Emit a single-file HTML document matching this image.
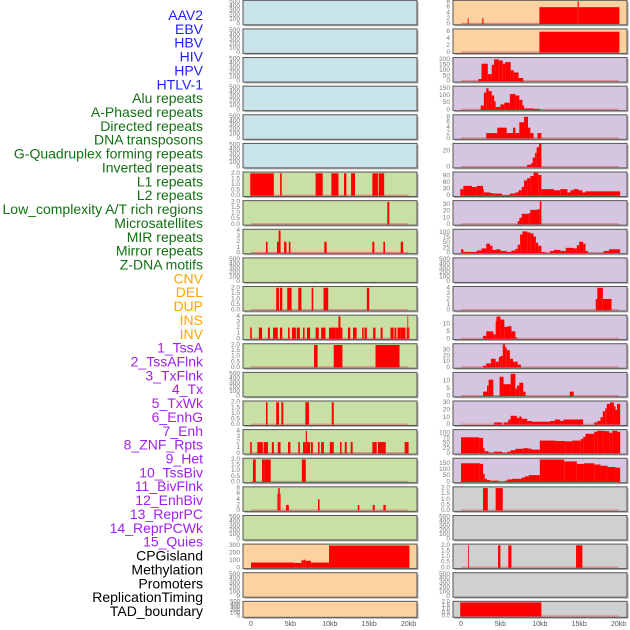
<!DOCTYPE html>
<html><head><meta charset="utf-8"><style>
html,body{margin:0;padding:0;background:#fff;width:630px;height:630px;overflow:hidden}
svg{display:block}
</style></head><body>
<svg id="chart" width="630" height="630" xmlns="http://www.w3.org/2000/svg"></svg>
<script>
// ---- labels ----
const labelNames = ["AAV2","EBV","HBV","HIV","HPV","HTLV-1","Alu repeats","A-Phased repeats","Directed repeats","DNA transposons","G-Quadruplex forming repeats","Inverted repeats","L1 repeats","L2 repeats","Low_complexity A/T rich regions","Microsatellites","MIR repeats","Mirror repeats","Z-DNA motifs","CNV","DEL","DUP","INS","INV","1_TssA","2_TssAFlnk","3_TxFlnk","4_Tx","5_TxWk","6_EnhG","7_Enh","8_ZNF_Rpts","9_Het","10_TssBiv","11_BivFlnk","12_EnhBiv","13_ReprPC","14_ReprPCWk","15_Quies","CPGisland","Methylation","Promoters","ReplicationTiming","TAD_boundary"];
const labelGroups = [6,13,5,15,5];
const groupColors = ["#1f1fff","#137013","#ffa500","#a020f0","#000000"];
// ---- x axis ----
const xTicks = [0,5,10,15,20];
const xTickLabels = ["0","5kb","10kb","15kb","20kb"];
// ---- left column data: [startKb, endKb, value] ----
const L7 = [[-0.1,2.9,2],[3.7,3.9,2],[8.2,9.1,2],[10.2,11.1,2],[11.8,12.1,2],[12.7,13.2,2],[15.4,16.1,2],[16.2,16.9,2]];
const L8 = [[17.3,17.55,2]];
const L9 = [[1.9,2.1,2],[3.3,3.5,2],[3.5,3.75,4],[4.2,4.5,2],[4.8,5.0,2],[9.3,9.6,2],[15.4,15.65,2],[16.8,17.0,2],[19.0,19.3,2]];
const L11 = [[3.2,3.55,2],[3.67,3.97,2],[4.6,5.15,2],[6.0,6.4,2],[7.7,7.9,2],[9.2,9.8,2],[14.7,15.0,2]];
const L12 = [[-0.1,0.1,2],[1,1.4,2],[2.15,2.4,2],[2.8,3.4,2],[3.67,3.97,2],[4.7,4.9,2],[5.2,5.7,2],[5.8,6.2,2],[6.6,6.8,2],[7.1,7.5,2],[8.2,8.6,2],[8.9,9.45,2],[9.9,10.7,2],[10.7,11.1,2],[11.1,11.35,4],[11.35,11.6,2],[12.3,12.6,2],[12.95,13.4,2],[14.1,14.3,2],[14.4,14.7,2],[15.5,15.8,2],[16.45,16.7,2],[17.7,18.1,2],[18.2,18.45,2],[18.6,19,2],[19,19.6,2],[19.75,19.85,2],[19.85,19.95,4],[19.95,20.1,2]];
const L13 = [[8,8.45,2],[10.5,11.6,2],[15.8,18.85,2]];
const L15 = [[1.9,2.1,2],[3.2,3.55,2],[3.85,4.1,2],[6.9,7.35,2],[10.25,10.5,2]];
const L16 = [[-0.1,0.1,2],[0.8,1.5,2],[1.6,2.15,2],[2.65,2.9,2],[3.4,3.75,2],[4.7,5.0,2],[6,6.2,2],[6.6,6.95,2],[6.95,7.1,4],[7.1,7.5,2],[7.6,7.85,2],[8.5,8.7,2],[8.9,9.25,2],[10,10.5,2],[11.3,11.5,2],[11.9,12.15,2],[12.65,12.9,2],[15.4,15.95,2],[16.1,16.7,2],[16.7,17.1,2],[19.5,20,2]];
const L17 = [[0.25,0.6,2],[1.4,1.7,2],[1.7,2.5,2],[6.45,6.95,2]];
const L18 = [[3.35,3.45,6],[3.45,3.65,8],[3.65,3.75,6],[4.45,4.8,2],[8.5,8.7,4],[13.55,13.75,2],[15.45,15.7,2],[16.8,17.1,2]];
const L20 = [[0,5.5,70],[5.5,6.4,65],[6.4,6.7,100],[6.7,6.9,110],[6.9,7.6,95],[7.6,9.9,70],[9.9,20.1,300]];
// ---- right column data ----
const R1 = [[0.85,0.97,2],[2.7,2.85,2],[9.95,14.8,6],[14.8,14.95,8],[14.95,20.1,6]];
const R2 = [[9.95,20.1,6]];
const R3 = [[2.2,2.6,20],[2.6,3.4,160],[3.4,3.9,65],[3.9,4.2,150],[4.2,4.8,200],[4.8,5.3,190],[5.3,5.6,160],[5.6,6.3,175],[6.3,6.7,100],[6.7,7.3,80],[7.3,7.9,30]];
const R4 = [[2.5,2.9,30],[2.9,3.2,120],[3.2,3.5,150],[3.5,3.9,130],[3.9,4.2,100],[4.2,4.4,60],[4.4,5,20],[5,5.5,38],[5.5,6.2,50],[6.2,6.9,110],[6.9,7.4,100],[7.4,7.8,70],[7.8,8,30],[8,9.2,10],[9.2,10,7]];
const R5 = [[3.2,4.6,2],[4.6,5.8,4],[5.8,6.6,2],[6.6,6.9,4],[6.9,7.4,2],[7.4,8,6],[8,8.5,8],[8.5,8.8,4],[8.8,9.2,2],[9.7,10.2,2]];
const R6 = [[8.4,8.9,3],[8.9,9.1,5],[9.1,9.4,12],[9.4,9.6,18],[9.6,9.9,25],[9.9,10.2,30]];
const R7 = [[-0.1,0.3,30],[0.3,1.4,45],[1.4,2,40],[2,2.8,45],[2.8,2.9,30],[2.9,3.7,15],[3.7,4.1,12],[4.1,5.2,10],[5.2,6.2,3],[6.2,6.9,10],[6.9,7.3,15],[7.3,7.7,25],[7.7,8,40],[8,8.4,70],[8.4,8.8,80],[8.8,9.2,90],[9.2,9.8,105],[9.8,10.2,95],[10.2,11.8,30],[11.8,12.6,25],[12.6,13.5,30],[13.5,13.9,15],[13.9,14.3,25],[14.3,14.9,30],[14.9,15.4,25],[15.4,15.8,15],[15.8,20.2,20]];
const R8 = [[7.2,7.4,5],[7.4,7.7,10],[7.7,8.6,16],[8.6,8.8,17],[8.8,9.7,22],[9.7,10,23],[10,10.2,35]];
const R9 = [[0,0.3,18],[0.3,2,5],[2,2.6,12],[2.6,3.2,22],[3.2,3.7,45],[3.7,4,35],[4,4.5,15],[4.5,5,18],[5,5.8,10],[5.8,6.4,5],[6.4,6.9,12],[6.9,7.2,20],[7.2,7.5,40],[7.5,7.8,90],[7.8,8.4,105],[8.4,8.8,100],[8.8,9.2,95],[9.2,9.5,80],[9.5,9.8,50],[9.8,10.2,35],[10.2,10.7,5],[11.3,11.8,10],[11.8,12.6,15],[12.6,13.3,10],[13.3,14.3,25],[14.3,14.7,22],[14.7,15,38],[15,15.5,55],[15.5,15.8,45],[15.8,16.1,10],[18.1,18.8,10],[18.8,20.2,18]];
const R11 = [[17.1,17.3,2],[17.3,18,4],[18,19.1,2]];
const R12 = [[2.8,3.2,2],[3.2,4.1,5],[4.1,4.4,3],[4.4,4.5,12],[4.5,5,15],[5,5.5,13],[5.5,5.9,8],[5.9,6.4,8.5],[6.4,6.9,5],[6.9,7.1,1]];
const R13 = [[2.8,3.2,3],[3.2,3.8,7],[3.8,4.4,15],[4.4,4.8,10],[4.8,5,18],[5,5.3,20],[5.3,5.6,40],[5.6,5.8,35],[5.8,6.2,30],[6.2,6.6,15],[6.6,7.2,10],[7.2,7.6,5]];
const R14 = [[2.8,3.3,3],[3.3,3.5,7],[3.5,4.1,11],[4.9,5.4,13],[5.4,6.3,8],[6.3,6.9,15],[6.9,7.1,5],[7.1,7.4,7],[7.4,7.9,9],[7.9,8.2,3],[13.8,14.3,3]];
const R15 = [[4.2,5.2,3],[5.4,6,3],[6,6.3,7],[6.3,7.1,12],[7.1,7.4,9],[7.4,7.7,11],[7.7,8.4,8],[8.4,9,5],[9,11.3,4],[11.3,11.9,5],[11.9,12.6,7],[12.6,13,5],[13,15.5,7],[16.9,17.3,3],[17.3,17.7,5],[17.7,18,10],[18,18.3,18],[18.3,18.5,22],[18.5,18.9,28],[18.9,19.4,30],[19.4,19.6,25],[19.6,19.8,20],[19.8,20.2,28]];
const R16 = [[0,2.3,78],[2.3,2.8,75],[2.8,3,25],[3,3.5,10],[3.5,4.2,3],[4.2,5.2,8],[5.2,5.9,3],[5.9,6.3,8],[6.3,6.9,15],[6.9,7.9,22],[7.9,8.6,25],[8.6,9,22],[9,10,18],[10,12,62],[12,13.3,60],[13.3,14.1,58],[14.1,15.2,62],[15.2,15.5,70],[15.5,15.8,80],[15.8,16.9,95],[16.9,17.3,105],[17.3,18.1,110],[18.1,18.8,108],[18.8,19.2,100],[19.2,19.8,110],[19.8,20.2,105]];
const R17 = [[0,2.4,150],[2.4,2.8,145],[2.8,3,65],[3,3.3,25],[3.3,3.7,15],[3.7,4.8,10],[4.8,5.6,3],[5.6,5.9,10],[5.9,6.5,20],[6.5,7.7,25],[7.7,8.1,35],[8.1,8.6,45],[8.6,10,55],[10,13.1,180],[13.1,14.7,165],[14.7,15.6,145],[15.6,16.9,150],[16.9,17.7,140],[17.7,18.6,130],[18.6,19.6,120],[19.6,20.2,115]];
const R18 = [[2.8,3.4,2],[4.4,5.3,2]];
const R20 = [[0.9,1.0,2],[4.7,5.0,2],[6.0,6.4,2],[14.6,15.4,2]];
const R22 = [[-0.1,10.2,2]];
// ---- y scales per panel: [max, ticks] ----
const T500=[520,[0,100,200,300,400,500]], T2=[2.05,[0,0.5,1,1.5,2]], T4=[4.1,[0,1,2,3,4]], T8=[8.2,[0,2,4,6,8]];
const BLUE="#c8e3ea", GREEN="#c8e0a4", ORANGE="#fed1a0", PURPLE="#d6c5e1", GRAY="#d0d0d0";
const leftBgs = [BLUE,BLUE,BLUE,BLUE,BLUE,BLUE,GREEN,GREEN,GREEN,GREEN,GREEN,GREEN,GREEN,GREEN,GREEN,GREEN,GREEN,GREEN,GREEN,ORANGE,ORANGE,ORANGE];
const rightBgs = [ORANGE,ORANGE,PURPLE,PURPLE,PURPLE,PURPLE,PURPLE,PURPLE,PURPLE,PURPLE,PURPLE,PURPLE,PURPLE,PURPLE,PURPLE,PURPLE,PURPLE,GRAY,GRAY,GRAY,GRAY,GRAY];
const leftData = [null,null,null,null,null,null,L7,L8,L9,null,L11,L12,L13,null,L15,L16,L17,L18,null,L20,null,null];
const rightData = [R1,R2,R3,R4,R5,R6,R7,R8,R9,null,R11,R12,R13,R14,R15,R16,R17,R18,null,R20,null,R22];
const leftScales = [T500,T500,T500,T500,T500,T500,T2,T2,T4,T500,T2,T4,T2,T500,T2,T4,T2,T8,T500,[310,[0,100,200,300]],T500,T500];
const rightScales = [T8,[6.6,[0,2,4,6]],[210,[0,50,100,150,200]],[160,[0,50,100,150]],[8.5,[0,2,4,6,8]],[29,[0,20]],[105,[0,30,60,90]],[35,[0,10,20,30]],[112,[0,25,50,75,100]],T500,T4,[15.5,[0,5,10]],[40,[0,10,20,30]],[15.5,[0,5,10]],[31,[0,10,20,30]],[112,[0,25,50,75,100]],[185,[0,50,100,150]],T2,T500,T2,T500,T2];

const NS="http://www.w3.org/2000/svg";
const svg=document.getElementById('chart');
function mk(tag,attrs,parent){const e=document.createElementNS(NS,tag);for(const k in attrs)e.setAttribute(k,attrs[k]);(parent||svg).appendChild(e);return e;}
const PX=7.88;
function xL(kb){return 251+kb*PX;}
function xR(kb){return 461+kb*PX;}
function rowTop(i){return 0.3+28.62*i;}
function rowH(i){return i===21?16:24.5;}

// labels
let li=0;
labelGroups.forEach((n,g)=>{for(let k=0;k<n;k++){const t=mk('text',{x:203,y:15+li*13.86,'text-anchor':'end','dominant-baseline':'central','font-size':'14','font-family':'Liberation Sans, sans-serif',fill:groupColors[g]});


t.textContent=labelNames[li];li++;}});

function panel(i,side){
  const left=side==='left';
  const x0=left?243:453, w=174;
  const bg=(left?leftBgs:rightBgs)[i];
  const data=(left?leftData:rightData)[i];
  const sc=(left?leftScales:rightScales)[i];
  const top=rowTop(i), h=rowH(i);
  const g=mk('g',{});
  
  
  mk('rect',{x:x0+1.5,y:top+1.5,width:w,height:h,fill:'#b0b0b0'},g);
  mk('rect',{x:x0,y:top,width:w,height:h,fill:bg},g);
  const bot=top+h-0.8, ht=h-1.5;
  const yS=v=>bot-v/sc[0]*ht;
  const xf=left?xL:xR;
  if(data){
    const base=mk('line',{x1:xf(0),x2:xf(20),y1:bot-0.5,y2:bot-0.5,stroke:'#e07070','stroke-width':1.2,opacity:0.8},g);
    
    
    data.forEach(d=>{const r=mk('rect',{x:xf(d[0]),y:yS(d[2]),width:Math.max(0.8,xf(d[1])-xf(d[0])),height:bot-yS(d[2]),fill:'#ff0000'},g);
      
      });
  }
  mk('rect',{x:x0,y:top,width:w,height:h,fill:'none',stroke:'#555','stroke-width':1},g);
  sc[1].forEach(v=>{const t=mk('text',{x:x0-3,y:yS(v),'text-anchor':'end','dominant-baseline':'central','font-size':i===21?'6':'6.5','font-family':'Liberation Sans, sans-serif',fill:'#777'},g);
    
    
    t.textContent=(sc[0]<3)?v.toFixed(1):String(v);});
}
for(let i=0;i<22;i++){panel(i,'left');panel(i,'right');}
['left','right'].forEach(side=>{xTicks.forEach((v,k)=>{const t=mk('text',{x:(side==='left'?xL:xR)(v),y:626,'text-anchor':'middle','font-size':'7','font-family':'Liberation Sans, sans-serif',fill:'#555'});
  
  
  t.textContent=xTickLabels[k];});});
</script>
</body></html>
